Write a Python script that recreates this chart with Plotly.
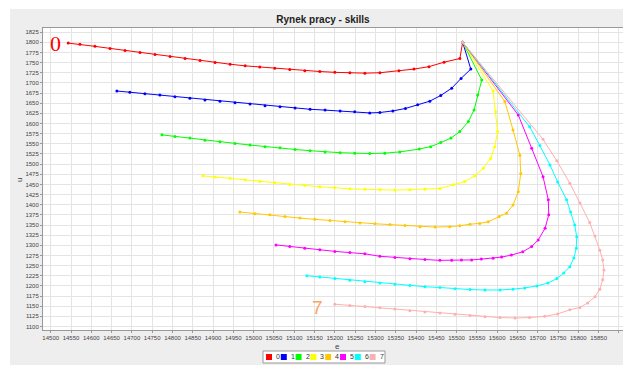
import plotly.graph_objects as go

# ---- data ----
x0 = [14543, 14572, 14609, 14646, 14683, 14720, 14757, 14794, 14831, 14868, 14905, 14942, 14979, 15015,
      15052, 15089, 15126, 15163, 15200, 15237, 15274, 15311, 15358, 15395, 15432, 15469, 15508, 15515]
y0 = [1798, 1795, 1790, 1785, 1780, 1775, 1770, 1765, 1760, 1755, 1750, 1746, 1742, 1739,
      1736, 1733, 1730, 1728, 1726, 1725, 1724, 1725, 1730, 1734, 1740, 1751, 1760, 1800]

x1 = [14663, 14695, 14732, 14769, 14806, 14843, 14880, 14917, 14954, 14991, 15028, 15065, 15102, 15139,
      15176, 15213, 15249, 15286, 15311, 15343, 15374, 15404, 15434, 15461, 15488, 15511, 15535, 15515]
y1 = [1680, 1677, 1673, 1670, 1666, 1662, 1658, 1655, 1651, 1648, 1644, 1641, 1638, 1635,
      1633, 1631, 1629, 1626, 1627, 1631, 1637, 1646, 1655, 1669, 1687, 1711, 1734, 1800]

x2 = [14774, 14806, 14843, 14880, 14917, 14954, 14991, 15028, 15065, 15102, 15139, 15176, 15213, 15249,
      15286, 15323, 15360, 15408, 15436, 15461, 15486, 15508, 15529, 15543, 15552, 15562, 15515]
y2 = [1572, 1568, 1564, 1559, 1555, 1551, 1547, 1543, 1540, 1536, 1533, 1530, 1528, 1527,
      1526, 1527, 1530, 1537, 1543, 1553, 1564, 1580, 1605, 1633, 1670, 1707, 1800]

x3 = [14875, 14905, 14942, 14979, 15015, 15052, 15089, 15126, 15163, 15200, 15237, 15274, 15311, 15348,
      15385, 15422, 15459, 15492, 15520, 15545, 15566, 15584, 15594, 15601, 15596, 15590, 15515]
y3 = [1471, 1468, 1465, 1461, 1457, 1454, 1450, 1447, 1444, 1442, 1439, 1438, 1437, 1436,
      1437, 1438, 1440, 1449, 1457, 1471, 1490, 1514, 1543, 1580, 1629, 1680, 1800]

x4 = [14966, 15003, 15040, 15077, 15114, 15151, 15188, 15225, 15262, 15299, 15336, 15373, 15410, 15447,
      15483, 15508, 15533, 15557, 15578, 15605, 15623, 15639, 15652, 15658, 15656, 15639, 15619, 15515]
y4 = [1382, 1378, 1375, 1371, 1367, 1364, 1361, 1358, 1355, 1353, 1351, 1349, 1346, 1345,
      1346, 1348, 1352, 1354, 1358, 1371, 1379, 1399, 1432, 1477, 1522, 1584, 1654, 1800]

x5 = [15055, 15089, 15126, 15163, 15200, 15237, 15274, 15311, 15348, 15385, 15422, 15459, 15488, 15512,
      15537, 15561, 15590, 15611, 15635, 15663, 15685, 15701, 15718, 15727, 15726, 15713, 15685, 15652, 15515]
y5 = [1301, 1297, 1293, 1289, 1285, 1282, 1279, 1273, 1270, 1267, 1265, 1263, 1263, 1264,
      1264, 1266, 1268, 1271, 1276, 1284, 1297, 1313, 1342, 1375, 1412, 1469, 1539, 1621, 1800]

x6 = [15131, 15163, 15200, 15237, 15274, 15311, 15348, 15385, 15422, 15459, 15496, 15533, 15570, 15607,
      15639, 15668, 15698, 15725, 15747, 15764, 15779, 15789, 15795, 15796, 15791, 15781, 15771, 15749,
      15730, 15705, 15680, 15515]
y6 = [1225, 1222, 1218, 1214, 1210, 1207, 1204, 1201, 1198, 1196, 1193, 1191, 1190, 1190,
      1192, 1195, 1200, 1207, 1218, 1232, 1247, 1269, 1293, 1321, 1350, 1382, 1412, 1456,
      1498, 1546, 1592, 1800]

x7 = [15200, 15237, 15274, 15311, 15348, 15385, 15422, 15459, 15496, 15533, 15570, 15607, 15644, 15680,
      15717, 15749, 15779, 15804, 15823, 15841, 15853, 15860, 15863, 15860, 15853, 15841, 15828, 15804,
      15779, 15747, 15713, 15515]
y7 = [1155, 1152, 1149, 1146, 1143, 1139, 1136, 1133, 1130, 1127, 1124, 1122, 1121, 1122,
      1125, 1131, 1141, 1147, 1158, 1173, 1192, 1215, 1239, 1264, 1288, 1323, 1356, 1404,
      1453, 1508, 1561, 1800]

series_names = ["0", "1", "2", "3", "4", "5", "6", "7"]
series_x = [x0, x1, x2, x3, x4, x5, x6, x7]
series_y = [y0, y1, y2, y3, y4, y5, y6, y7]
colors = ["#ff0000", "#0000ff", "#00ff00", "#ffff00", "#ffc800", "#ff00ff", "#00ffff", "#ffafaf"]

title_text = "Rynek pracy - skills"
x_title = "e"
y_title = "u"

# ---- figure geometry ----
W, H = 623, 365
L, R, T, B = 43, 0, 28, 35
PW, PH = W - L - R, H - T - B


def px2paper_x(px):
    return (px - L) / PW


def px2paper_y(py):
    return (H - B - py) / PH


fig = go.Figure()
for name, xs, ys, c in zip(series_names, series_x, series_y, colors):
    fig.add_trace(go.Scatter(x=xs, y=ys, name=name, mode="lines+markers",
                             line=dict(color=c, width=1),
                             marker=dict(color=c, size=3),
                             showlegend=False))

tickfont = dict(family="Liberation Sans, Arial, sans-serif", size=6, color="#444444")
fig.update_layout(
    width=W, height=H,
    margin=dict(l=L, r=R, t=T, b=B, pad=0),
    paper_bgcolor="#eeeeee", plot_bgcolor="#ffffff",
    title=dict(text="<b>" + title_text + "</b>", x=323 / W, xanchor="center",
               y=1 - 19 / H, yanchor="middle",
               font=dict(family="Liberation Sans, Arial, sans-serif", size=10, color="#222222")),
    xaxis=dict(range=[14481, 15910], tick0=14500, dtick=50, tickformat="d", tickangle=0,
               showgrid=True, gridcolor="#e4e4e4", gridwidth=1, zeroline=False,
               showline=True, linecolor="#999999", linewidth=1, mirror=True,
               ticks="outside", ticklen=2, tickcolor="#999999", tickfont=tickfont),
    yaxis=dict(range=[1091.4, 1835.2], tick0=1100, dtick=25, tickformat="d",
               showgrid=True, gridcolor="#e4e4e4", gridwidth=1, zeroline=False,
               showline=True, linecolor="#999999", linewidth=1,
               ticks="outside", ticklen=2, tickcolor="#999999", tickfont=tickfont),
)

shapes = []
# white border strips (top, left) of the screenshot
shapes.append(dict(type="rect", xref="paper", yref="paper", layer="above",
                   x0=px2paper_x(0), x1=px2paper_x(W), y0=px2paper_y(9), y1=px2paper_y(0),
                   fillcolor="#ffffff", line=dict(width=0)))
shapes.append(dict(type="rect", xref="paper", yref="paper", layer="above",
                   x0=px2paper_x(0), x1=px2paper_x(10), y0=px2paper_y(H), y1=px2paper_y(0),
                   fillcolor="#ffffff", line=dict(width=0)))
# legend box
shapes.append(dict(type="rect", xref="paper", yref="paper",
                   x0=px2paper_x(263), x1=px2paper_x(385), y0=px2paper_y(363), y1=px2paper_y(351),
                   fillcolor="#ffffff", line=dict(color="#999999", width=1)))
annotations = []
for i, (name, c) in enumerate(zip(series_names, colors)):
    cx = 269 + i * 14.8
    shapes.append(dict(type="rect", xref="paper", yref="paper",
                       x0=px2paper_x(cx - 3), x1=px2paper_x(cx + 3),
                       y0=px2paper_y(360), y1=px2paper_y(354),
                       fillcolor=c, line=dict(width=0)))
    annotations.append(dict(text=name, xref="paper", yref="paper",
                            x=px2paper_x(cx + 5), y=px2paper_y(357), xanchor="left", yanchor="middle",
                            showarrow=False, font=dict(family="Liberation Sans, Arial, sans-serif",
                                                       size=7, color="#333333")))

# axis titles
annotations.append(dict(text=x_title, xref="paper", yref="paper", x=px2paper_x(337), y=px2paper_y(346),
                        xanchor="center", yanchor="middle", showarrow=False,
                        font=dict(family="Liberation Sans, Arial, sans-serif", size=8, color="#444444")))
annotations.append(dict(text=y_title, xref="paper", yref="paper", x=px2paper_x(19), y=px2paper_y(180),
                        xanchor="center", yanchor="middle", showarrow=False, textangle=-90,
                        font=dict(family="Liberation Sans, Arial, sans-serif", size=8, color="#444444")))
# series labels written on the chart
annotations.append(dict(text="0", xref="x", yref="y", x=14513, y=1798, xanchor="center", yanchor="middle",
                        showarrow=False, font=dict(family="Liberation Serif, Times New Roman, serif",
                                                   size=22, color="#ff0000")))
annotations.append(dict(text="7", xref="x", yref="y", x=15158, y=1148, xanchor="center", yanchor="middle",
                        showarrow=False, font=dict(family="Liberation Sans, Arial, sans-serif",
                                                   size=19, color="#f7a660")))

fig.update_layout(shapes=shapes, annotations=annotations)
fig.write_html("out.html")
